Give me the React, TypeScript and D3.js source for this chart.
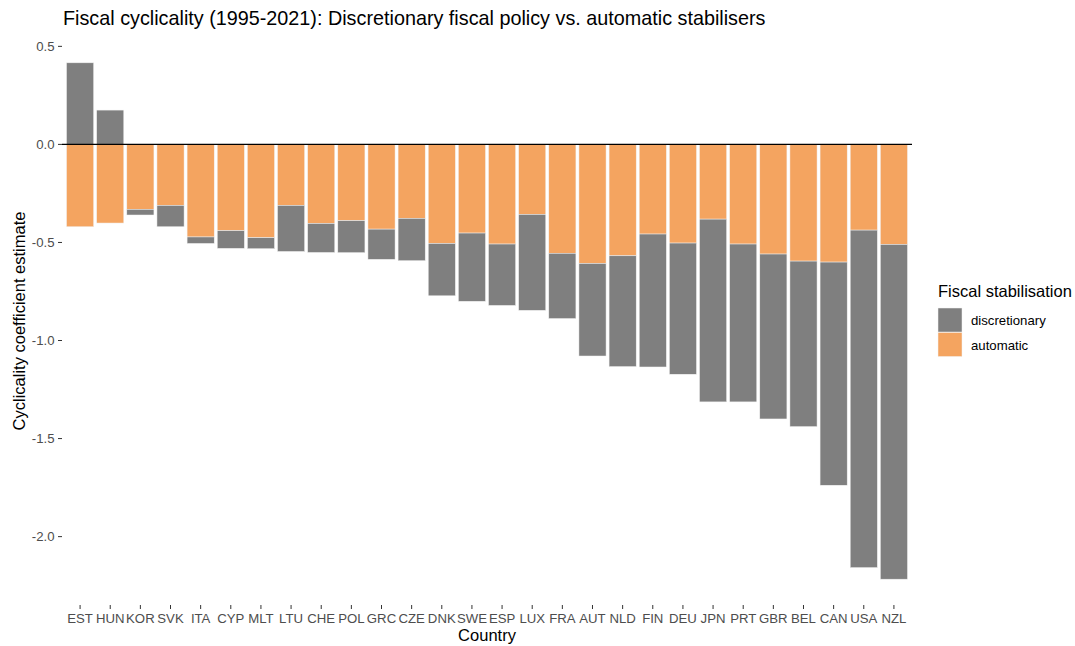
import * as d3 from "d3"

// countries, sorted as in the chart
const countries = [
  "EST", "HUN", "KOR", "SVK", "ITA", "CYP", "MLT", "LTU", "CHE", "POL",
  "GRC", "CZE", "DNK", "SWE", "ESP", "LUX", "FRA", "AUT", "NLD", "FIN",
  "DEU", "JPN", "PRT", "GBR", "BEL", "CAN", "USA", "NZL",
]

// automatic stabiliser coefficient
const automatic = [
  -0.42, -0.401, -0.331, -0.311, -0.472, -0.44, -0.476, -0.311, -0.403, -0.389,
  -0.432, -0.377, -0.505, -0.452, -0.508, -0.357, -0.555, -0.607, -0.568, -0.457,
  -0.503, -0.381, -0.508, -0.559, -0.595, -0.6, -0.437, -0.51,
]

// discretionary fiscal policy coefficient
const discretionary = [
  0.416, 0.175, -0.029, -0.109, -0.033, -0.09, -0.056, -0.235, -0.148, -0.163,
  -0.154, -0.216, -0.267, -0.348, -0.313, -0.489, -0.333, -0.472, -0.565, -0.678,
  -0.669, -0.932, -0.805, -0.841, -0.844, -1.138, -1.721, -1.707,
]

const yTicks = [0.5, 0, -0.5, -1, -1.5, -2]

const seriesNames = ["discretionary", "automatic"]
const colors: Record<string, string> = { discretionary: "#7f7f7f", automatic: "#f4a460" }

const W = 1075
const H = 646
const panel = { left: 62, right: 912, top: 37, bottom: 605 }
const font = "'Liberation Sans', Arial, Helvetica, sans-serif"
const axisGrey = "#4d4d4d"

const App = () => {
  // stack: negatives go downward, automatic nearest to zero
  const rows = countries.map((c, i) => {
    const a = automatic[i]
    const d = discretionary[i]
    const segs: { key: string; y0: number; y1: number }[] = []
    segs.push({ key: "automatic", y0: 0, y1: a })
    if (d < 0) segs.push({ key: "discretionary", y0: a, y1: a + d })
    else segs.push({ key: "discretionary", y0: 0, y1: d })
    return { country: c, segs }
  })

  const allVals = rows.flatMap((r) => r.segs.flatMap((s) => [s.y0, s.y1]))
  const lo = d3.min(allVals) as number
  const hi = d3.max(allVals) as number
  const pad = (hi - lo) * 0.05

  const y = d3
    .scaleLinear()
    .domain([lo - pad, hi + pad])
    .range([panel.bottom, panel.top])

  const x = d3
    .scaleBand()
    .domain(countries)
    .range([panel.left, panel.right])
    .paddingInner(0.1)
    .paddingOuter(0.15)

  const fmt = (v: number) => v.toFixed(1)

  return (
    <svg
      width={W}
      height={H}
      style={{ position: "absolute", left: 0, top: 0, display: "block" }}
      fontFamily={font}
    >
      <rect width={W} height={H} fill="white" />

      {/* title */}
      <text x={63} y={25} fontSize={19.8} fill="#000">
        Fiscal cyclicality (1995-2021): Discretionary fiscal policy vs. automatic stabilisers
      </text>

      {/* bars */}
      {rows.map((r) =>
        r.segs.map((s) => (
          <rect
            key={r.country + s.key}
            x={x(r.country)}
            width={x.bandwidth()}
            y={y(Math.max(s.y0, s.y1))}
            height={Math.abs(y(s.y0) - y(s.y1))}
            fill={colors[s.key]}
            stroke="#f2f2f2"
            strokeWidth={0.5}
          />
        ))
      )}

      {/* zero line */}
      <line x1={panel.left} x2={panel.right} y1={y(0)} y2={y(0)} stroke="#000" strokeWidth={1.1} />

      {/* y axis */}
      {yTicks.map((t) => (
        <g key={t}>
          <line x1={panel.left - 4} x2={panel.left} y1={y(t)} y2={y(t)} stroke="#333" strokeWidth={1} />
          <text x={panel.left - 7.5} y={y(t)} dy="0.35em" textAnchor="end" fontSize={13.2} fill={axisGrey}>
            {fmt(t)}
          </text>
        </g>
      ))}

      {/* x axis */}
      {countries.map((c) => {
        const cx = (x(c) as number) + x.bandwidth() / 2
        return (
          <g key={c}>
            <line x1={cx} x2={cx} y1={panel.bottom} y2={panel.bottom + 4} stroke="#333" strokeWidth={1} />
            <text x={cx} y={622.5} textAnchor="middle" fontSize={13.2} fill={axisGrey}>
              {c}
            </text>
          </g>
        )
      })}

      {/* axis titles */}
      <text x={(panel.left + panel.right) / 2} y={641} textAnchor="middle" fontSize={16.5} fill="#000">
        Country
      </text>
      <text
        transform={`translate(24.5,${(panel.top + panel.bottom) / 2}) rotate(-90)`}
        textAnchor="middle"
        fontSize={16.5}
        fill="#000"
      >
        Cyclicality coefficient estimate
      </text>

      {/* legend */}
      <text x={938} y={297} fontSize={16.5} fill="#000">
        Fiscal stabilisation
      </text>
      {seriesNames.map((s, i) => (
        <g key={s} transform={`translate(938,${308 + i * 24.5})`}>
          <rect width={24} height={24} fill={colors[s]} stroke="#f2f2f2" strokeWidth={0.5} />
          <text x={33} y={12.5} dy="0.35em" fontSize={13.2} fill="#000">
            {s}
          </text>
        </g>
      ))}
    </svg>
  )
}

export default App
